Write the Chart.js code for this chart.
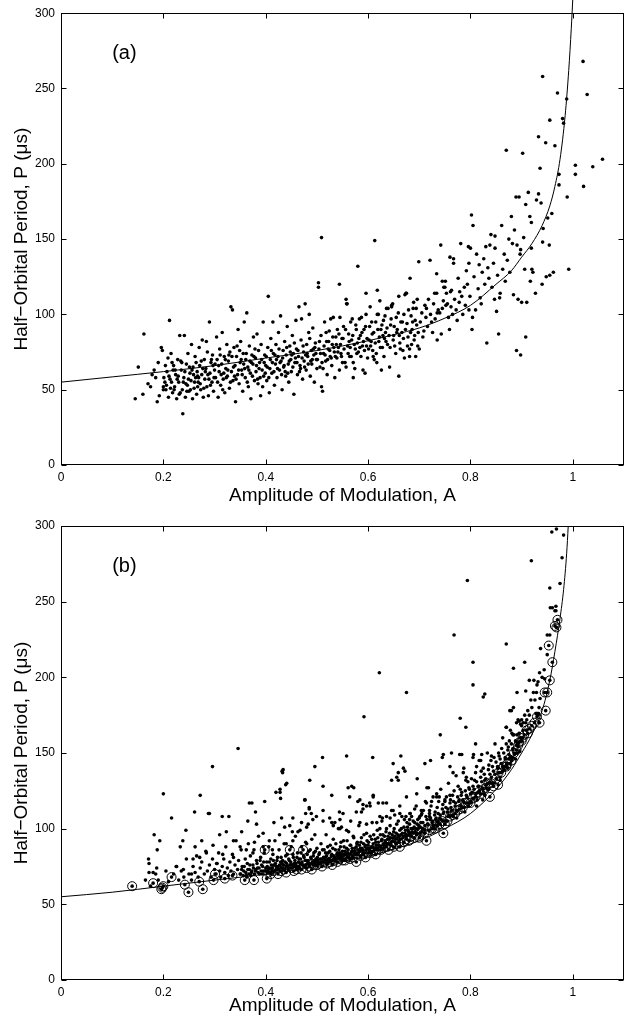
<!DOCTYPE html>
<html>
<head>
<meta charset="utf-8">
<script src="https://cdn.jsdelivr.net/npm/chart.js@4.4.1/dist/chart.umd.min.js"></script>
<style>
  html, body { margin: 0; padding: 0; background: #fff; }
  #wrap { position: relative; width: 633px; height: 1019px; overflow: hidden; }
  #c1 { position: absolute; left: 0; top: 0; }
  #c2 { position: absolute; left: 0; top: 509px; }
</style>
</head>
<body>
<div id="wrap">
  <canvas id="c1" width="633" height="509"></canvas>
  <canvas id="c2" width="633" height="510"></canvas>
</div>
<script>
// ---------- tick labels ----------
const xTicks = [0, 0.2, 0.4, 0.6, 0.8, 1];
const xTickLabels = ['0', '0.2', '0.4', '0.6', '0.8', '1'];
const yTicks = [0, 50, 100, 150, 200, 250, 300];
const yTickLabels = ['0', '50', '100', '150', '200', '250', '300'];
const xTitle = 'Amplitude of Modulation, A';
const yTitle = 'Half\u2212Orbital Period, P (\u03bcs)';
const panelLabels = ['(a)', '(b)'];

// ---------- panel (a) ----------
const fitA = [[0,55],[0.1,58.5],[0.2,62],[0.3,66],[0.4,71],[0.5,76],[0.6,82.5],[0.65,86.5],[0.7,91],[0.75,97.5],[0.8,106],
  [0.85,120],[0.88,129],[0.9,138],[0.92,147],[0.94,159],[0.955,172],[0.965,185],[0.975,203],[0.985,232],[0.992,262],[0.997,290],[1.0,310],[1.003,332]];

const pointsA1 = [
[0.145,44],[0.151,65],[0.162,87],[0.16,47],[0.17,54],[0.175,52],[0.182,63],[0.188,42],[0.19,68],[0.196,78],[0.198,76],[0.2,52],[0.2,50],[0.203,55],[0.185,58],[0.192,46],[0.178,60],
[0.205,50],[0.207,62],[0.21,45],[0.212,96],[0.213,57],[0.215,74],[0.218,48],[0.22,66],[0.222,52],[0.224,60],[0.226,44],[0.228,70],[0.23,55],[0.232,86],[0.233,48],[0.235,63],[0.237,50],[0.238,34],[0.24,58],[0.241,86],[0.243,45],[0.245,67],[0.247,53],[0.248,74],[0.25,49],[0.252,61],[0.254,56],[0.255,80],[0.257,44],[0.258,65],[0.26,51],[0.262,72],[0.263,58],[0.265,47],[0.266,62],[0.268,55],[0.27,78],[0.271,66],[0.273,50],[0.275,60],[0.276,83],[0.278,45],[0.28,70],[0.281,57],[0.283,64],[0.285,52],[0.286,75],[0.288,46],[0.29,95],[0.291,61],[0.293,68],[0.295,55],[0.296,73],[0.298,49],[0.3,63],
[0.214,51],[0.219,63],[0.227,57],[0.236,68],[0.244,54],[0.251,65],[0.259,60],[0.267,52],[0.274,69],[0.282,62],[0.289,57],[0.297,66],[0.253,50],[0.269,58],[0.284,82],
[0.302,58],[0.304,85],[0.305,70],[0.307,45],[0.309,62],[0.31,77],[0.312,53],[0.314,67],[0.315,88],[0.317,57],[0.319,72],[0.32,48],[0.322,64],[0.324,80],[0.325,59],[0.327,69],[0.329,51],[0.33,75],[0.332,105],[0.333,62],[0.335,103],[0.336,56],[0.338,78],[0.34,66],[0.341,42],[0.343,72],[0.345,60],[0.346,90],[0.348,54],[0.35,68],[0.351,82],[0.353,63],[0.355,49],[0.356,74],[0.358,95],[0.36,58],[0.361,70],[0.363,101],[0.365,65],[0.366,52],[0.368,79],[0.37,61],[0.371,44],[0.373,73],[0.375,67],[0.376,85],[0.378,56],[0.38,71],[0.381,62],[0.383,87],[0.385,54],[0.386,76],[0.388,68],[0.39,46],[0.391,80],[0.393,63],[0.395,95],[0.396,59],[0.398,73],[0.4,66],
[0.308,66],[0.318,61],[0.328,73],[0.339,59],[0.349,76],[0.359,64],[0.369,69],[0.379,77],[0.389,58],[0.397,68],
[0.402,56],[0.404,78],[0.405,112],[0.407,48],[0.409,70],[0.41,84],[0.412,61],[0.414,95],[0.415,74],[0.417,53],[0.419,67],[0.42,80],[0.422,58],[0.424,72],[0.425,88],[0.427,63],[0.429,99],[0.43,69],[0.432,50],[0.434,76],[0.435,65],[0.437,82],[0.439,59],[0.44,73],[0.442,92],[0.444,67],[0.445,55],[0.447,79],[0.449,70],[0.45,62],[0.452,86],[0.454,74],[0.455,47],[0.457,68],[0.459,96],[0.46,77],[0.462,60],[0.464,72],[0.465,105],[0.467,66],[0.469,83],[0.47,97],[0.472,57],[0.474,75],[0.475,69],[0.477,107],[0.479,63],[0.48,80],[0.482,72],[0.484,88],[0.485,100],[0.487,59],[0.489,76],[0.49,67],[0.492,91],[0.494,73],[0.495,55],[0.497,81],[0.499,70],[0.5,64],
[0.408,64],[0.418,73],[0.428,68],[0.438,62],[0.448,75],[0.458,71],[0.468,64],[0.478,73],[0.488,69],[0.496,78],
[0.503,121],[0.503,118],[0.504,77],[0.506,65],[0.508,86],[0.509,151],[0.509,52],[0.511,49],[0.512,64],[0.513,74],[0.515,95],[0.517,69],[0.519,82],[0.52,60],[0.522,77],[0.524,89],[0.526,72],[0.527,97],[0.529,66],[0.53,80],[0.532,98],[0.534,75],[0.535,58],[0.537,85],[0.539,71],[0.54,90],[0.542,78],[0.544,120],[0.544,63],[0.545,98],[0.547,74],[0.549,84],[0.55,68],[0.552,92],[0.555,68],[0.557,110],[0.557,65],[0.558,107],[0.559,107],[0.56,79],[0.562,87],[0.564,72],[0.566,95],[0.568,83],[0.569,97],[0.571,58],[0.571,68],[0.574,64],[0.575,77],[0.577,90],[0.579,81],[0.58,132],[0.581,75],[0.583,97],[0.585,86],[0.587,98],[0.589,79],[0.59,63],[0.592,90],[0.594,61],[0.596,114],[0.596,100],[0.598,84],
[0.601,77],[0.603,92],[0.604,105],[0.606,82],[0.608,87],[0.61,72],[0.612,70],[0.613,149],[0.615,95],[0.617,68],[0.618,116],[0.618,100],[0.62,100],[0.622,85],[0.623,109],[0.625,90],[0.626,63],[0.628,78],[0.63,96],[0.632,84],[0.634,88],[0.636,104],[0.638,80],[0.639,104],[0.642,65],[0.644,93],[0.646,105],[0.646,106],[0.648,107],[0.65,86],[0.652,79],[0.655,98],[0.657,90],[0.66,112],[0.66,59],[0.662,81],[0.664,95],[0.666,88],[0.668,76],[0.67,100],[0.671,71],[0.672,113],[0.674,114],[0.675,114],[0.676,94],[0.678,85],[0.681,72],[0.681,77],[0.682,124],[0.684,99],[0.686,90],[0.688,104],[0.69,83],[0.692,96],[0.693,72],[0.694,104],[0.696,110],[0.698,88],[0.699,135],[0.7,77],
[0.702,95],[0.705,101],[0.707,85],[0.709,89],[0.711,106],[0.713,98],[0.714,104],[0.716,92],[0.718,110],[0.721,136],[0.722,100],[0.724,95],[0.726,88],[0.728,107],[0.73,114],[0.731,97],[0.734,127],[0.734,114],[0.735,101],[0.735,83],[0.737,103],[0.74,101],[0.742,146],[0.743,87],[0.745,104],[0.745,122],[0.747,109],[0.748,118],[0.75,118],[0.751,122],[0.752,106],[0.753,114],[0.755,107],[0.757,98],[0.759,90],[0.76,138],[0.761,115],[0.762,105],[0.763,116],[0.765,100],[0.767,137],[0.767,134],[0.769,110],[0.772,103],[0.774,96],[0.776,124],[0.778,108],[0.779,115],[0.781,147],[0.783,112],[0.785,100],[0.788,118],[0.79,106],[0.792,129],[0.794,120],[0.796,145],[0.797,134],[0.797,103],[0.799,112],[0.8,144],
[0.802,166],[0.803,90],[0.804,98],[0.805,159],[0.807,125],[0.81,103],[0.812,140],[0.815,117],[0.817,133],[0.819,111],[0.821,107],[0.823,128],[0.826,137],[0.828,120],[0.83,145],[0.832,81],[0.834,131],[0.836,124],[0.838,146],[0.84,153],[0.842,118],[0.845,134],[0.847,110],[0.848,152],[0.848,144],[0.851,102],[0.853,126],[0.855,87],[0.857,111],[0.858,114],[0.861,159],[0.863,130],[0.866,140],[0.868,122],[0.87,209],[0.872,136],[0.875,150],[0.877,128],[0.88,165],[0.882,147],[0.884,113],[0.886,156],[0.889,178],[0.89,76],[0.891,146],[0.893,110],[0.895,178],[0.897,140],[0.898,73],[0.898,143],[0.9,108],
[0.902,207],[0.904,151],[0.906,130],[0.908,173],[0.908,85],[0.91,108],[0.913,181],[0.916,165],[0.917,122],[0.919,161],[0.919,144],[0.92,130],[0.922,128],[0.927,114],[0.929,176],[0.933,218],[0.933,180],[0.936,197],[0.938,174],[0.94,120],[0.941,258],[0.941,148],[0.942,157],[0.947,214],[0.948,125],[0.951,164],[0.954,146],[0.955,229],[0.955,126],[0.959,167],[0.962,128],[0.965,212],[0.97,247],[0.973,193],[0.973,186],[0.98,230],[0.982,227],[0.988,243],[0.989,178],[0.992,130],[1.005,199],[1.005,193],[1.02,268],[1.021,185],[1.028,246],[1.039,198],[1.058,203]
];
const pointsA2 = [
[0.201,58],[0.204,66],[0.206,53],[0.209,71],[0.211,59],[0.216,55],[0.217,68],[0.221,50],[0.223,63],[0.229,59],[0.231,47],[0.234,69],[0.239,55],[0.242,62],[0.246,49],[0.249,57],[0.256,63],[0.261,55],[0.264,68],[0.267,59],[0.272,54],[0.277,64],[0.279,51],[0.287,60],[0.292,53],[0.294,70],[0.299,58],
[0.301,67],[0.306,55],[0.311,73],[0.313,60],[0.316,50],[0.321,70],[0.323,58],[0.326,63],[0.331,55],[0.334,72],[0.337,65],[0.342,57],[0.344,79],[0.347,63],[0.352,70],[0.354,60],[0.357,67],[0.362,74],[0.364,55],[0.367,63],[0.372,68],[0.374,59],[0.377,72],[0.382,66],[0.384,57],[0.387,64],[0.392,70],[0.394,52],[0.399,61],
[0.401,72],[0.403,65],[0.406,58],[0.411,76],[0.413,68],[0.416,62],[0.421,70],[0.423,64],[0.426,77],[0.431,60],[0.433,71],[0.436,66],[0.441,78],[0.443,61],[0.446,69],[0.451,73],[0.453,65],[0.456,81],[0.461,68],[0.463,76],[0.466,62],[0.471,71],[0.473,79],[0.476,65],[0.481,74],[0.483,67],[0.486,84],[0.491,70],[0.493,77],[0.498,74],
[0.501,70],[0.505,82],[0.507,74],[0.51,68],[0.514,79],[0.516,73],[0.518,88],[0.521,70],[0.523,82],[0.525,76],[0.528,71],[0.531,85],[0.533,78],[0.536,72],[0.538,80],[0.541,75],[0.543,87],[0.546,80],[0.548,72],[0.551,84],[0.553,77],[0.556,90],[0.561,74],[0.563,82],[0.565,78],[0.567,72],[0.57,86],[0.573,80],[0.576,93],[0.578,74],[0.582,84],[0.584,78],[0.586,72],[0.588,88],[0.591,82],[0.593,76],[0.595,92],[0.597,79],[0.599,71],
[0.602,83],[0.605,79],[0.607,95],[0.609,76],[0.611,88],[0.614,81],[0.616,74],[0.619,90],[0.621,82],[0.624,78],[0.627,93],[0.629,86],[0.631,72],[0.633,99],[0.635,82],[0.637,91],[0.641,86],[0.643,78],[0.645,97],[0.649,83],[0.651,92],[0.654,74],[0.656,88],[0.659,101],[0.661,86],[0.663,77],[0.667,95],[0.669,84],[0.673,90],[0.677,79],[0.679,103],[0.683,88],[0.685,80],[0.687,95],[0.689,108],[0.691,86],[0.695,93],[0.697,79]
];

// ---------- panel (b) ----------
const fitB = [[0,55],[0.1,58],[0.2,62],[0.3,66],[0.4,70],[0.5,75],[0.6,82],[0.65,86.5],[0.7,92],[0.75,100],[0.8,110],[0.85,126],
  [0.88,139],[0.9,150],[0.92,162],[0.94,178],[0.955,198],[0.965,217],[0.975,239],[0.982,258],[0.988,282],[0.991,300],[0.995,330]];

const pointsB1 = [
[0.165,66],[0.172,71],[0.175,62],[0.185,70],[0.19,66],[0.205,72],[0.21,65],[0.22,70],[0.225,75],[0.23,66],[0.235,72],[0.24,68],[0.245,80],[0.25,70],[0.255,66],[0.258,75],[0.262,71],[0.265,82],[0.268,68],[0.272,74],[0.275,78],[0.28,70],[0.283,85],[0.286,72],[0.29,76],[0.293,68],[0.296,80],[0.3,73],
[0.303,70],[0.305,77],[0.308,84],[0.31,72],[0.312,68],[0.315,75],[0.318,80],[0.32,71],[0.322,88],[0.325,74],[0.327,69],[0.33,78],[0.332,72],[0.335,83],[0.337,70],[0.34,76],[0.342,92],[0.345,73],[0.347,79],[0.35,70],[0.352,86],[0.354,75],[0.357,72],[0.36,80],[0.362,69],[0.364,77],[0.366,90],[0.368,73],[0.37,82],[0.372,71],[0.375,76],[0.377,86],[0.38,72],[0.382,79],[0.384,74],[0.386,95],[0.388,70],[0.39,81],[0.392,76],[0.395,72],[0.397,84],[0.4,74],
[0.402,78],[0.404,71],[0.406,88],[0.408,74],[0.41,80],[0.412,72],[0.414,83],[0.416,76],[0.418,92],[0.42,73],[0.422,79],[0.424,75],[0.426,86],[0.428,72],[0.43,81],[0.432,77],[0.434,74],[0.436,90],[0.438,78],[0.44,75],[0.442,83],[0.444,73],[0.446,79],[0.448,76],[0.45,88],[0.452,74],[0.454,81],[0.456,77],[0.458,95],[0.46,75],[0.462,84],[0.464,78],[0.466,74],[0.468,80],[0.47,88],[0.472,76],[0.474,82],[0.476,75],[0.478,91],[0.48,79],[0.482,77],[0.484,85],[0.486,76],[0.488,81],[0.49,93],[0.492,78],[0.494,84],[0.496,77],[0.498,80],[0.5,87],
[0.502,79],[0.504,83],[0.506,77],[0.508,90],[0.51,80],[0.512,78],[0.514,86],[0.516,81],[0.518,96],[0.52,79],[0.522,84],[0.524,80],[0.526,89],[0.528,82],[0.53,79],[0.532,93],[0.534,81],[0.536,86],[0.538,80],[0.54,84],[0.542,100],[0.544,82],[0.546,88],[0.548,81],[0.55,85],[0.552,92],[0.554,83],[0.556,80],[0.558,87],[0.56,84],[0.562,98],[0.564,83],[0.566,89],[0.568,85],[0.57,82],[0.572,94],[0.574,87],[0.576,84],[0.578,90],[0.58,86],[0.582,102],[0.584,85],[0.586,91],[0.588,87],[0.59,84],[0.592,96],[0.594,88],[0.596,86],[0.598,92],[0.6,89],
[0.602,86],[0.604,95],[0.606,88],[0.608,104],[0.61,90],[0.612,87],[0.614,93],[0.616,89],[0.618,99],[0.62,91],[0.622,88],[0.624,96],[0.626,92],[0.628,107],[0.63,90],[0.632,95],[0.634,91],[0.636,100],[0.638,93],[0.64,90],[0.642,97],[0.644,94],[0.646,112],[0.648,92],[0.65,98],[0.652,95],[0.654,93],[0.656,103],[0.658,96],[0.66,92],[0.662,99],[0.664,96],[0.666,108],[0.668,94],[0.67,101],[0.672,97],[0.674,95],[0.676,104],[0.678,99],[0.68,96],[0.682,110],[0.684,100],[0.686,98],[0.688,105],[0.69,101],[0.692,98],[0.694,115],[0.696,103],[0.698,100],[0.7,107],
[0.702,101],[0.705,110],[0.707,104],[0.71,99],[0.712,118],[0.715,106],[0.717,103],[0.72,112],[0.722,107],[0.725,104],[0.727,121],[0.73,109],[0.732,106],[0.735,114],[0.737,110],[0.74,107],[0.742,126],[0.745,113],[0.747,110],[0.75,118],[0.752,114],[0.755,111],[0.757,130],[0.76,117],[0.762,114],[0.765,122],[0.767,118],[0.77,115],[0.772,135],[0.775,121],[0.777,118],[0.78,126],[0.782,122],[0.785,119],[0.787,140],[0.79,125],[0.792,122],[0.795,131],[0.797,127],[0.8,123],
[0.802,133],[0.805,128],[0.807,126],[0.81,137],[0.812,131],[0.815,128],[0.817,145],[0.82,134],[0.822,131],[0.825,140],[0.827,136],[0.83,133],[0.833,150],[0.835,139],[0.838,136],[0.84,145],[0.843,141],[0.845,138],[0.848,156],[0.85,144],[0.853,141],[0.855,150],[0.858,146],[0.86,143],[0.863,160],[0.865,150],[0.868,147],[0.87,156],[0.873,152],[0.875,149],[0.878,165],[0.88,156],[0.883,153],[0.885,162],[0.888,158],[0.89,155],[0.893,172],[0.895,163],[0.898,160],[0.9,168],
[0.903,165],[0.906,175],[0.908,170],[0.912,178],[0.915,175],[0.918,185],[0.92,180],[0.923,190],[0.926,185],[0.93,195],[0.933,176],[0.936,186],[0.94,200],[0.944,205],[0.95,215],[0.955,228],[0.96,246],[0.965,244],
[0.959,296],[0.968,298],[0.982,294],[0.979,279],[0.919,277],[0.975,262],[0.955,259],[0.956,246],[0.967,247],[0.967,244],[0.794,264],[0.95,228],[0.937,219],[0.768,228],[0.87,222],[0.906,210],[0.805,210],[0.884,206],[0.935,203],[0.915,198],[0.924,198],[0.932,197],[0.945,199],[0.622,203],[0.805,195],[0.675,190],[0.825,187],[0.828,189],[0.891,190],[0.908,191],[0.929,190],[0.934,180],[0.928,176],[0.932,175],[0.877,178],[0.884,180],[0.9,172],[0.91,172],[0.903,170],[0.89,170],[0.898,169],[0.592,174],[0.78,173],[0.791,167],[0.87,167],[0.741,162],[0.881,163],[0.81,156],
[0.511,147],[0.558,148],[0.609,147],[0.664,148],[0.747,149],[0.783,149],[0.805,147],[0.822,149],[0.841,148],[0.856,148],
[0.434,139],[0.433,137],[0.441,130],[0.428,126],[0.429,120],[0.431,107],[0.672,138],[0.656,134],[0.646,132],[0.659,132],[0.696,133],[0.715,127],[0.718,127],[0.722,145],[0.745,147],[0.763,150],[0.779,149],[0.806,149],[0.82,145],
[0.529,122],[0.561,127],[0.572,127],[0.564,121],[0.58,118],[0.61,121],[0.629,117],[0.59,113],[0.597,115],[0.604,115],[0.577,111],[0.587,111],
[0.476,119],[0.485,114],[0.478,110],[0.489,110],[0.499,108],[0.47,104],[0.483,103],[0.447,102],[0.452,98],[0.463,98],[0.44,90],[0.512,105],[0.529,104],[0.532,102],[0.548,101],[0.558,99],[0.544,111],[0.566,105],[0.545,100],
[0.636,108],[0.623,108],[0.652,109],[0.662,110],[0.674,108],[0.682,110],[0.691,113],[0.704,112],[0.701,108],[0.714,117],[0.724,118],[0.734,123],[0.739,121],[0.75,119],[0.76,122],[0.72,108],[0.737,105],[0.756,108],[0.773,107],[0.789,111],[0.796,115],[0.812,115],[0.824,119],[0.828,122],[0.835,126],[0.845,130],[0.858,132],[0.863,138],[0.87,142],[0.877,143],[0.882,147],[0.89,150],[0.891,157],[0.883,162],[0.874,154],[0.87,167],[0.88,178],[0.895,171],
[0.182,96],[0.193,92],[0.188,86],[0.171,80],[0.172,77],[0.187,74],[0.18,71],[0.2,123],[0.216,107],[0.261,111],[0.29,110],[0.315,108],[0.328,108],[0.272,122],[0.296,141],
[0.238,92],[0.244,99],[0.233,88],[0.262,88],[0.275,92],[0.258,80],[0.271,81],[0.284,84],[0.226,75],[0.239,73],[0.255,70],
[0.297,89],[0.31,96],[0.323,98],[0.337,92],[0.35,88],[0.353,98],[0.337,81],[0.316,83],[0.304,77],
[0.365,105],[0.382,103],[0.395,97],[0.362,86],[0.378,91],[0.375,84],[0.395,88],[0.407,92],[0.413,86],[0.427,96],[0.437,101],[0.453,107],[0.453,92],[0.467,99],[0.48,101],[0.492,106],[0.496,96],[0.48,90],
[0.368,117],[0.38,111],[0.398,118],[0.416,104],[0.432,138],[0.439,129],[0.42,124],[0.428,124],[0.477,119],[0.485,113],[0.373,117],[0.346,153],[0.288,110],
[0.486,132],[0.496,141],[0.512,128],[0.568,128],[0.61,122],[0.584,119],[0.59,116],[0.603,117],[0.62,117],[0.636,117],[0.649,143],[0.659,137],[0.669,140],[0.675,121],[0.695,123],[0.711,143],[0.734,121],[0.76,141],[0.766,137],[0.786,137],[0.792,134],[0.812,141],[0.854,140],
[0.551,110],[0.525,107],[0.512,112],[0.535,104],[0.545,106],[0.584,104],[0.597,103],[0.617,104],[0.627,105],[0.643,107],[0.649,112],[0.662,115],[0.681,106],[0.704,109],[0.72,110]
];
const pointsB2 = [
[0.351,70],[0.353,73],[0.356,69],[0.358,75],[0.361,71],[0.363,68],[0.365,73],[0.367,70],[0.369,76],[0.371,69],[0.373,72],[0.376,74],[0.378,70],[0.381,73],[0.383,77],[0.385,71],[0.387,74],[0.389,79],[0.391,72],[0.393,70],[0.394,75],[0.396,78],[0.399,72],
[0.401,72],[0.403,75],[0.405,73],[0.407,78],[0.409,71],[0.411,76],[0.413,74],[0.415,79],[0.417,72],[0.419,77],[0.421,75],[0.423,81],[0.425,73],[0.427,76],[0.429,78],[0.431,74],[0.433,79],[0.435,76],[0.437,73],[0.439,82],[0.441,77],[0.443,75],[0.445,80],[0.447,74],[0.449,78],[0.451,76],[0.453,83],[0.455,75],[0.457,79],[0.459,77],[0.461,81],[0.463,75],[0.465,80],[0.467,77],[0.469,84],[0.471,78],[0.473,76],[0.475,81],[0.477,79],[0.479,76],[0.481,83],[0.483,79],[0.485,77],[0.487,86],[0.489,80],[0.491,77],[0.493,82],[0.495,79],[0.497,85],[0.499,78],
[0.501,81],[0.503,77],[0.505,84],[0.507,80],[0.509,78],[0.511,86],[0.513,81],[0.515,79],[0.517,84],[0.519,82],[0.521,88],[0.523,80],[0.525,85],[0.527,79],[0.529,83],[0.531,87],[0.533,82],[0.535,80],[0.537,90],[0.539,83],[0.541,81],[0.543,86],[0.545,84],[0.547,91],[0.549,83],[0.551,80],[0.553,88],[0.555,85],[0.557,83],[0.559,92],[0.561,86],[0.563,81],[0.565,89],[0.567,84],[0.569,87],[0.571,95],[0.573,85],[0.575,83],[0.577,88],[0.579,91],[0.581,84],[0.583,89],[0.585,87],[0.587,94],[0.589,86],[0.591,90],[0.593,84],[0.595,89],[0.597,97],[0.599,87],
[0.601,91],[0.603,87],[0.605,85],[0.607,93],[0.609,88],[0.611,96],[0.613,86],[0.615,91],[0.617,87],[0.619,94],[0.621,89],[0.623,100],[0.625,88],[0.627,93],[0.629,96],[0.631,89],[0.633,92],[0.635,98],[0.637,90],[0.639,95],[0.641,93],[0.643,102],[0.645,91],[0.647,96],[0.649,94],[0.651,100],[0.653,91],[0.655,97],[0.657,94],[0.659,105],[0.661,95],[0.663,93],[0.665,100],[0.667,97],[0.669,95],[0.671,106],[0.673,99],[0.675,96],[0.677,101],[0.679,98],[0.681,103],[0.683,97],[0.685,108],[0.687,100],[0.689,97],[0.691,104],[0.693,100],[0.695,97],[0.697,106],[0.699,102],
[0.701,97],[0.703,104],[0.706,100],[0.708,112],[0.711,102],[0.713,108],[0.716,103],[0.718,99],[0.721,106],[0.723,115],[0.726,105],[0.728,102],[0.731,111],[0.733,107],[0.736,104],[0.738,118],[0.741,109],[0.743,106],[0.746,116],[0.748,111],[0.751,105],[0.753,121],[0.756,113],[0.758,109],[0.761,119],[0.763,112],[0.766,108],[0.768,125],[0.771,117],[0.773,112],[0.776,128],[0.778,119],[0.781,115],[0.783,124],[0.786,118],[0.788,114],[0.791,132],[0.793,121],[0.796,117],[0.798,126],
[0.801,118],[0.803,124],[0.806,120],[0.808,132],[0.811,123],[0.813,119],[0.816,128],[0.818,125],[0.821,138],[0.823,127],[0.826,123],[0.828,132],[0.831,129],[0.833,126],[0.836,142],[0.838,131],[0.841,134],[0.843,130],[0.846,147],[0.848,136],[0.851,133],[0.853,140],[0.856,137],[0.858,134],[0.861,153],[0.863,141],[0.866,139],[0.868,146],[0.871,143],[0.873,140],[0.876,158],[0.878,147],[0.881,145],[0.883,152],[0.886,149],[0.888,146],[0.891,162],[0.893,154],[0.896,151],[0.898,158]
];

const circledB = [
[0.139,62],[0.18,64],[0.196,60],[0.198,61],[0.2,62],[0.216,68],[0.242,63],[0.249,58],[0.27,65],[0.277,60],[0.298,66],[0.301,70],[0.32,67],[0.335,69],[0.359,66],[0.377,66],[0.398,86],[0.402,67],[0.41,70],[0.424,70],[0.44,71],[0.447,86],[0.455,72],[0.47,73],[0.473,86],[0.48,74],[0.49,73],[0.5,76],[0.51,75],[0.52,77],[0.53,76],[0.54,78],[0.555,79],[0.565,80],[0.577,78],[0.585,82],[0.595,81],[0.605,84],[0.615,83],[0.625,86],[0.64,86],[0.65,88],[0.662,88],[0.67,91],[0.68,92],[0.69,94],[0.7,94],[0.705,98],[0.714,92],[0.72,99],[0.73,100],[0.74,103],[0.747,97],[0.755,105],[0.76,108],[0.77,110],[0.775,112],[0.785,114],[0.79,117],[0.8,117],[0.81,121],[0.815,124],[0.82,123],[0.83,127],[0.838,121],[0.84,130],[0.845,128],[0.854,129],[0.86,137],[0.865,141],[0.872,143],[0.88,145],[0.885,150],[0.89,152],[0.895,157],[0.9,158],[0.905,162],[0.91,165],[0.915,166],[0.92,168],[0.935,170],[0.947,178],[0.945,190],[0.953,221],[0.965,234],[0.968,233],[0.97,238],
[0.405,71],[0.415,72],[0.43,72],[0.435,73],[0.45,74],[0.46,73],[0.465,75],[0.485,75],[0.495,76],[0.505,77],[0.515,78],[0.525,78],[0.535,79],[0.545,80],[0.55,79],[0.56,81],[0.57,81],[0.58,83],[0.59,83],[0.6,84],[0.61,85],[0.62,86],[0.63,87],[0.635,88],[0.645,89],[0.655,90],[0.66,91],[0.675,93],[0.685,95],[0.695,96],[0.71,97],[0.725,100],[0.735,102],[0.745,105],[0.75,103],[0.765,109],[0.78,113],[0.795,117],[0.805,120],[0.825,126],[0.835,130],[0.85,133],[0.855,137],[0.87,141],[0.875,146],[0.893,155],[0.902,160],[0.912,163],[0.925,170],[0.93,174],[0.95,190],[0.955,198],[0.96,210]
];

// ---------- rendering ----------
const FONT = '"Liberation Sans", Arial, Helvetica, sans-serif';
const toXY = arr => arr.map(p => ({x: p[0], y: p[1]}));

const framePlugin = {
  id: 'frame',
  afterDatasetsDraw(chart, args, opts) {
    const {ctx, chartArea: a, scales: {x, y}} = chart;
    ctx.save();
    ctx.strokeStyle = '#000';
    ctx.lineWidth = 1;
    const L = Math.round(a.left) + 0.5, R = Math.round(a.right) - 0.5;
    const T = Math.round(a.top) + 0.5, B = Math.round(a.bottom) - 0.5;
    ctx.strokeRect(L, T, R - L, B - T);
    const tl = 5;
    ctx.beginPath();
    xTicks.forEach(v => {
      const px = Math.round(x.getPixelForValue(v)) + 0.5;
      ctx.moveTo(px, B); ctx.lineTo(px, B - tl);
      ctx.moveTo(px, T); ctx.lineTo(px, T + tl);
    });
    yTicks.forEach(v => {
      const py = Math.round(y.getPixelForValue(v)) + 0.5;
      ctx.moveTo(L, py); ctx.lineTo(L + tl, py);
      ctx.moveTo(R, py); ctx.lineTo(R - tl, py);
    });
    ctx.stroke();
    ctx.fillStyle = '#000';
    ctx.font = '20px ' + FONT;
    ctx.textAlign = 'left';
    ctx.textBaseline = 'middle';
    ctx.fillText(opts.label, x.getPixelForValue(0.1), y.getPixelForValue(273));
    ctx.restore();
  }
};

function makeChart(id, label, datasets, topPad, xHeight) {
  return new Chart(document.getElementById(id), {
    type: 'scatter',
    data: {datasets},
    options: {
      responsive: false,
      animation: false,
      events: [],
      layout: {padding: {left: 0, right: 9, top: topPad, bottom: 0}},
      plugins: {legend: {display: false}, tooltip: {enabled: false}, frame: {label}},
      scales: {
        x: {
          type: 'linear', min: 0, max: 1.1,
          grid: {display: false, drawTicks: false},
          border: {display: false},
          afterBuildTicks: s => { s.ticks = xTicks.map(v => ({value: v})); },
          afterFit: s => { s.height = xHeight; },
          ticks: {
            color: '#000', padding: 5, maxRotation: 0, autoSkip: false,
            font: {family: FONT, size: 12},
            callback: (v, i) => xTickLabels[i]
          },
          title: {display: true, text: xTitle, color: '#000',
                  font: {family: FONT, size: 19, lineHeight: 1}, padding: {top: 0, bottom: 4}}
        },
        y: {
          type: 'linear', min: 0, max: 300,
          grid: {display: false, drawTicks: false},
          border: {display: false},
          afterBuildTicks: s => { s.ticks = yTicks.map(v => ({value: v})); },
          afterFit: s => { s.width = 61; },
          ticks: {
            color: '#000', padding: 6, autoSkip: false,
            font: {family: FONT, size: 12},
            callback: (v, i) => yTickLabels[i]
          },
          title: {display: true, text: yTitle, color: '#000',
                  font: {family: FONT, size: 19, lineHeight: 1}, padding: {top: 12, bottom: 0}}
        }
      }
    },
    plugins: [framePlugin]
  });
}

const dotStyle = {pointRadius: 1.8, pointBackgroundColor: '#000', pointBorderWidth: 0, pointStyle: 'circle', showLine: false};
const fitStyle = {showLine: true, pointRadius: 0, borderColor: '#000', borderWidth: 1, cubicInterpolationMode: 'monotone', fill: false};

makeChart('c1', panelLabels[0], [
  Object.assign({data: toXY(pointsA1.concat(pointsA2))}, dotStyle),
  Object.assign({data: toXY(fitA), clip: {left: 0, top: false, right: 0, bottom: 0}}, fitStyle)
], 11, 44);

makeChart('c2', panelLabels[1], [
  Object.assign({data: toXY(pointsB1.concat(pointsB2))}, dotStyle),
  Object.assign({data: toXY(circledB)}, dotStyle),
  {data: toXY(circledB), showLine: false, pointRadius: 4.5, pointStyle: 'circle',
   pointBackgroundColor: 'rgba(0,0,0,0)', pointBorderColor: '#000', pointBorderWidth: 1},
  Object.assign({data: toXY(fitB)}, fitStyle)
], 17, 39);
</script>
</body>
</html>
